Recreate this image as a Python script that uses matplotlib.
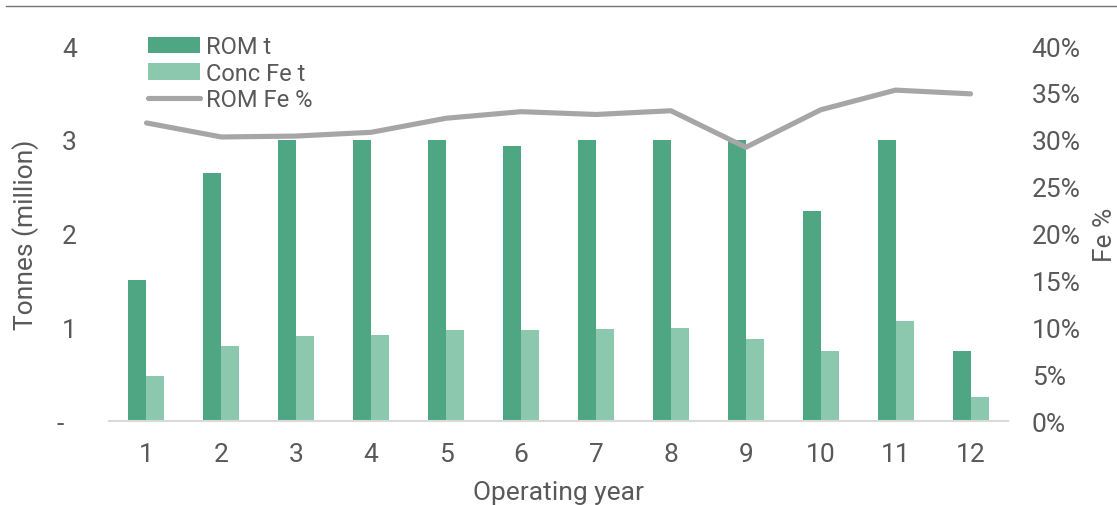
import matplotlib.pyplot as plt
import numpy as np
from matplotlib.lines import Line2D
from matplotlib.ticker import FuncFormatter

plt.rcParams["font.family"] = ["Roboto", "DejaVu Sans"]

years = [1, 2, 3, 4, 5, 6, 7, 8, 9, 10, 11, 12]
rom_t = [1.50, 2.65, 3.00, 3.00, 3.00, 2.93, 3.00, 3.00, 3.00, 2.24, 3.00, 0.75]
conc_fe_t = [0.48, 0.80, 0.91, 0.92, 0.97, 0.97, 0.98, 0.99, 0.87, 0.75, 1.07, 0.26]
rom_fe_pct = [31.8, 30.3, 30.4, 30.8, 32.3, 33.0, 32.7, 33.1, 29.2, 33.2, 35.3, 34.9]
left_labels = ["-  ", "1", "2", "3", "4"]

ROM_COLOR = "#4ea682"
CONC_COLOR = "#8bc8ad"
LINE_COLOR = "#a6a6a6"
TEXT_COLOR = "#595959"


def main() -> None:
    fig = plt.figure(figsize=(11.17, 5.06), dpi=100, facecolor="white")
    ax = fig.add_axes([0.0976, 0.166, 0.8048, 0.741])
    ax2 = ax.twinx()

    x = np.array(years)
    w = 0.24
    b1 = ax.bar(x - w / 2, rom_t, w, color=ROM_COLOR, label="ROM t", zorder=2)
    b2 = ax.bar(x + w / 2, conc_fe_t, w, color=CONC_COLOR, label="Conc Fe t", zorder=2)
    (ln,) = ax2.plot(x, rom_fe_pct, color=LINE_COLOR, lw=3.7, solid_capstyle="round",
                     label="ROM Fe %")

    ax.set_xlim(0.5, 12.5)
    ax.set_ylim(0, 4)
    ax2.set_ylim(0, 40)
    ax.set_xticks(x)
    ax.set_yticks([0, 1, 2, 3, 4])
    ax.set_yticklabels(left_labels)
    ax2.set_yticks(range(0, 45, 5))
    ax2.yaxis.set_major_formatter(FuncFormatter(lambda v, _: f"{v:.0f}%"))

    for a in (ax, ax2):
        for s in a.spines.values():
            s.set_visible(False)
    ax.spines["bottom"].set_visible(True)
    ax.spines["bottom"].set_color("#d9d9d9")
    ax.spines["bottom"].set_linewidth(1.5)

    ax.tick_params(axis="x", length=0, pad=15, labelsize=19, labelcolor=TEXT_COLOR)
    ax.tick_params(axis="y", length=0, pad=23, labelsize=19, labelcolor=TEXT_COLOR)
    ax2.tick_params(axis="y", length=0, pad=17, labelsize=19, labelcolor=TEXT_COLOR)

    ax.set_xlabel("Operating year", fontsize=19, color=TEXT_COLOR, labelpad=10)
    ax.set_ylabel("Tonnes (million)", fontsize=19, color=TEXT_COLOR, labelpad=13)
    ax2.set_ylabel("Fe %", fontsize=19, color=TEXT_COLOR, labelpad=9, rotation=90)

    ax.legend([b1, b2, ln], ["ROM t", "Conc Fe t", "ROM Fe %"], loc="upper left",
              bbox_to_anchor=(0.033, 1.054), frameon=False, fontsize=17,
              labelcolor=TEXT_COLOR, handlelength=2.2, handleheight=0.7,
              handletextpad=0.25, labelspacing=0.15, borderaxespad=0)

    fig.add_artist(Line2D([0.005, 1.0], [0.986, 0.986], color="#757575", lw=1.0,
                          transform=fig.transFigure))

    fig.savefig("out.png", dpi=100, facecolor="white")


if __name__ == "__main__":
    main()
